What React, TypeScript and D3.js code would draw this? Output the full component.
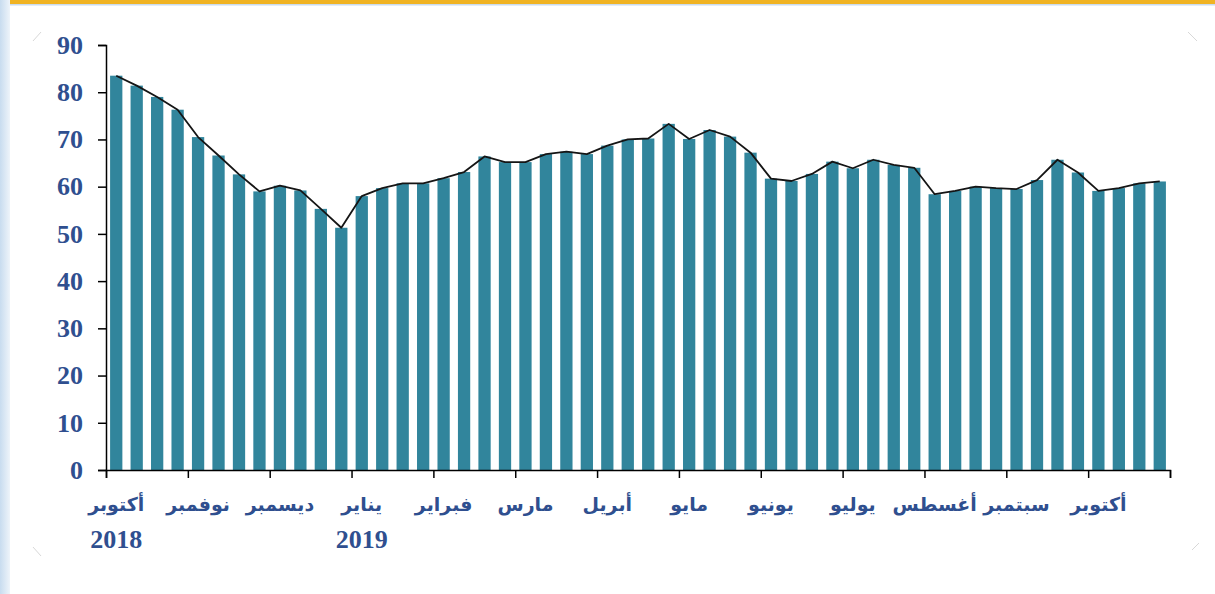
import React, { useEffect, useRef } from "react";
import * as d3 from "d3";

// weekly readings, Oct 2018 .. Oct 2019 (4 per month)
const weeklyValues: number[] = [
  83.5, 81.4, 79.0, 76.3, 70.5, 66.6, 62.6, 59.0, 60.2, 59.2, 55.3, 51.3, 58.0,
  59.7, 60.7, 60.7, 61.8, 63.1, 66.4, 65.2, 65.2, 66.9, 67.4, 66.9, 68.7, 70.0,
  70.2, 73.3, 70.1, 72.0, 70.6, 67.2, 61.7, 61.2, 62.7, 65.3, 63.9, 65.7, 64.6,
  64.0, 58.4, 59.1, 60.0, 59.7, 59.5, 61.4, 65.7, 63.0, 59.1, 59.7, 60.7, 61.1,
];
const monthLabels: string[] = [
  "أكتوبر", "نوفمبر", "ديسمبر", "يناير", "فبراير", "مارس", "أبريل",
  "مايو", "يونيو", "يوليو", "أغسطس", "سبتمبر", "أكتوبر",
];
const yearLabels: string[] = ["2018", "2019"];
const yearMonthIndex: number[] = [0, 3];
const yTicks: number[] = [0, 10, 20, 30, 40, 50, 60, 70, 80, 90];

const W = 1215, H = 594;
const margin = { top: 45, right: 45, bottom: 124, left: 106 };
const BAR = "#31859c";
const TEXT = "#2f4f8f";

export default function App() {
  const ref = useRef<SVGSVGElement>(null);

  useEffect(() => {
    const svg = d3.select(ref.current);
    svg.selectAll("*").remove();

    // frame decorations
    const defs = svg.append("defs");
    const grad = defs.append("linearGradient").attr("id", "edge").attr("x1", 0).attr("x2", 1);
    grad.append("stop").attr("offset", 0).attr("stop-color", "#c8dcef");
    grad.append("stop").attr("offset", 1).attr("stop-color", "#eef4fa");
    svg.append("rect").attr("width", W).attr("height", H).attr("fill", "#fff");
    svg.append("rect").attr("width", 10).attr("height", H).attr("fill", "url(#edge)");
    svg.append("rect").attr("x", 10).attr("width", W - 10).attr("height", 4).attr("fill", "#f0b323");
    svg.append("rect").attr("x", 10).attr("y", 4).attr("width", W - 10).attr("height", 1.5).attr("fill", "#c9dbee");
    const marks = [[33, 41, 41, 32], [1188, 32, 1197, 41], [1192, 550, 1199, 543], [33, 547, 41, 556]];
    svg.selectAll(".mark").data(marks).enter().append("line")
      .attr("x1", d => d[0]).attr("y1", d => d[1]).attr("x2", d => d[2]).attr("y2", d => d[3])
      .attr("stroke", "#d8d8d8").attr("stroke-width", 1);

    const iw = W - margin.left - margin.right;
    const ih = H - margin.top - margin.bottom;
    const g = svg.append("g").attr("transform", `translate(${margin.left},${margin.top})`);

    const x = d3.scaleBand<number>()
      .domain(d3.range(weeklyValues.length))
      .range([0, iw])
      .paddingInner(0.4)
      .paddingOuter(0.2);
    const weekPos = d3.scaleLinear().domain([0, weeklyValues.length]).range([0, iw]);
    const y = d3.scaleLinear().domain([0, 90]).range([ih, 0]);

    g.selectAll(".bar").data(weeklyValues).enter().append("rect")
      .attr("class", "bar")
      .attr("x", (d, i) => x(i) as number)
      .attr("y", d => y(d))
      .attr("width", x.bandwidth())
      .attr("height", d => ih - y(d))
      .attr("fill", BAR);

    const line = d3.line<number>()
      .x((d, i) => (x(i) as number) + x.bandwidth() / 2)
      .y(d => y(d));
    g.append("path").datum(weeklyValues)
      .attr("d", line)
      .attr("fill", "none")
      .attr("stroke", "#151515")
      .attr("stroke-width", 1.8)
      .attr("stroke-linejoin", "round");

    // y axis
    const yAxis = g.append("g").call(d3.axisLeft(y).tickValues(yTicks).tickSize(8).tickPadding(15));
    yAxis.select(".domain").attr("stroke", "#000").attr("stroke-width", 1.5);
    yAxis.selectAll(".tick line").attr("stroke", "#000").attr("stroke-width", 1.5);
    yAxis.selectAll(".tick text")
      .attr("fill", TEXT)
      .style("font-family", "'Liberation Serif', 'Times New Roman', serif")
      .style("font-weight", "bold")
      .style("font-size", "26px");

    // x axis: ticks at month boundaries
    const monthTicks = d3.range(0, weeklyValues.length + 1, 4);
    const xAxis = g.append("g").attr("transform", `translate(0,${ih})`)
      .call(d3.axisBottom(weekPos).tickValues(monthTicks).tickSize(8).tickFormat(() => ""));
    xAxis.select(".domain").attr("stroke", "#000").attr("stroke-width", 1.5);
    xAxis.selectAll(".tick line").attr("stroke", "#000").attr("stroke-width", 1.5);

    g.selectAll(".month").data(monthLabels).enter().append("text")
      .attr("class", "month")
      .attr("x", (d, i) => (x(i * 4) as number) + x.bandwidth() / 2)
      .attr("y", ih + 41)
      .attr("text-anchor", "middle")
      .attr("fill", TEXT)
      .style("font-family", "'DejaVu Sans', sans-serif")
      .style("font-weight", "bold")
      .style("font-size", "19px")
      .text(d => d);

    g.selectAll(".year").data(yearLabels).enter().append("text")
      .attr("class", "year")
      .attr("x", (d, i) => (x(yearMonthIndex[i] * 4) as number) + x.bandwidth() / 2)
      .attr("y", ih + 78)
      .attr("text-anchor", "middle")
      .attr("fill", TEXT)
      .style("font-family", "'Liberation Serif', 'Times New Roman', serif")
      .style("font-weight", "bold")
      .style("font-size", "26px")
      .text(d => d);
  }, []);

  return (
    <svg ref={ref} width={W} height={H}
      style={{ position: "absolute", left: 0, top: 0, display: "block" }} />
  );
}
